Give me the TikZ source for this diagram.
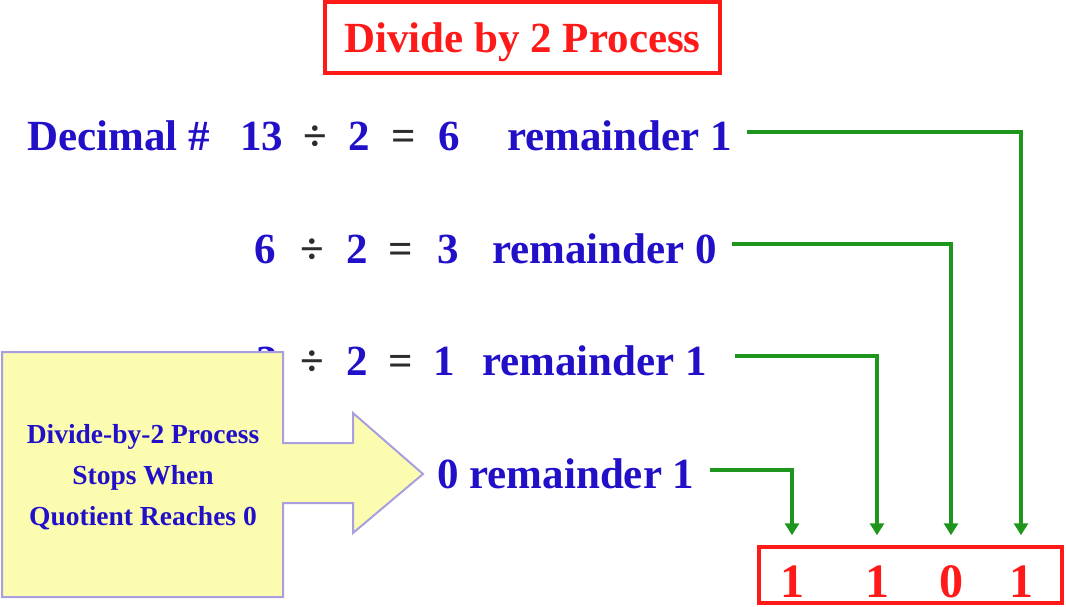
\documentclass[tikz,border=0pt]{standalone}
\usepackage{fontspec}
\setmainfont{Liberation Serif}
\usetikzlibrary{arrows.meta}
\definecolor{txtblue}{RGB}{34,16,200}
\definecolor{opgray}{RGB}{45,45,45}
\definecolor{boxred}{RGB}{255,26,26}
\definecolor{lgreen}{RGB}{30,150,30}
\definecolor{cfill}{RGB}{252,252,176}
\definecolor{cdraw}{RGB}{168,158,224}
\tikzset{
  eq/.style={anchor=base west, inner sep=0pt, text=txtblue, font=\fontsize{43}{50}\selectfont\bfseries},
  op/.style={eq, text=opgray},
  conn/.style={draw=lgreen, line width=3.5pt, -{Triangle[width=14pt,length=12pt]}, shorten >=10pt},
  digit/.style={anchor=base, inner sep=0pt, text=boxred, font=\fontsize{48}{54}\selectfont\bfseries},
  redbox/.style={draw=boxred, line width=3.5pt, inner sep=0pt},
  callout/.style={fill=cfill, draw=cdraw, line width=2pt},
  callouttext/.style={align=center, text=txtblue, inner sep=0pt, font=\fontsize{27.5}{41}\selectfont\bfseries}
}
\begin{document}
\begin{tikzpicture}[x=1pt,y=-1pt]
\useasboundingbox (0,0) rectangle (1066,607);
% title
\node[redbox, minimum width=395pt, minimum height=71pt, text=boxred,
      font=\fontsize{43}{50}\selectfont\bfseries, text depth=0pt] (title) at (522.5,37.5) {Divide by 2 Process};
% row 1
\node[eq] (a1) at (27,150) {Decimal \#};
\node[eq] (a2) at (240,150) {13};
\node[op] (a3) at (303,150) {÷};
\node[eq] (a4) at (348,150) {2};
\node[op] (a5) at (391,150) {=};
\node[eq] (a6) at (438,150) {6};
\node[eq] (a7) at (507,150) {remainder 1};
% row 2
\node[eq] (b1) at (254,263) {6};
\node[op] (b3) at (300,263) {÷};
\node[eq] (b4) at (346,263) {2};
\node[op] (b5) at (388,263) {=};
\node[eq] (b6) at (437,263) {3};
\node[eq] (b7) at (492,263) {remainder 0};
% row 3
\node[eq] (c1) at (256,375) {3};
\node[op] (c3) at (300,375) {÷};
\node[eq] (c4) at (346,375) {2};
\node[op] (c5) at (388,375) {=};
\node[eq] (c6) at (433,375) {1};
\node[eq] (c7) at (482,375) {remainder 1};
% row 4
\node[eq] (d7) at (437,488) {0 remainder 1};
% callout
\path[callout] (2,352) -- (283,352) -- (283,443) -- (353,443) -- (353,413) -- (423,474)
   -- (353,533) -- (353,503) -- (283,503) -- (283,597) -- (2,597) -- cycle;
\node[callouttext] (note) at (143,477) {Divide-by-2 Process\\Stops When\\Quotient Reaches 0};
% result box
\node[redbox, minimum width=303pt, minimum height=56pt] (result) at (910.5,575) {};
\node[digit] (r1) at (792,597) {1};
\node[digit] (r2) at (877,597) {1};
\node[digit] (r3) at (951,597) {0};
\node[digit] (r4) at (1021,597) {1};
% connectors
\coordinate (s1) at (747,132);
\coordinate (s2) at (732,244);
\coordinate (s3) at (735,356);
\coordinate (s4) at (710,470);
\draw[conn] (s1) -| (r4 |- result.north);
\draw[conn] (s2) -| (r3 |- result.north);
\draw[conn] (s3) -| (r2 |- result.north);
\draw[conn] (s4) -| (r1 |- result.north);
\end{tikzpicture}
\end{document}
